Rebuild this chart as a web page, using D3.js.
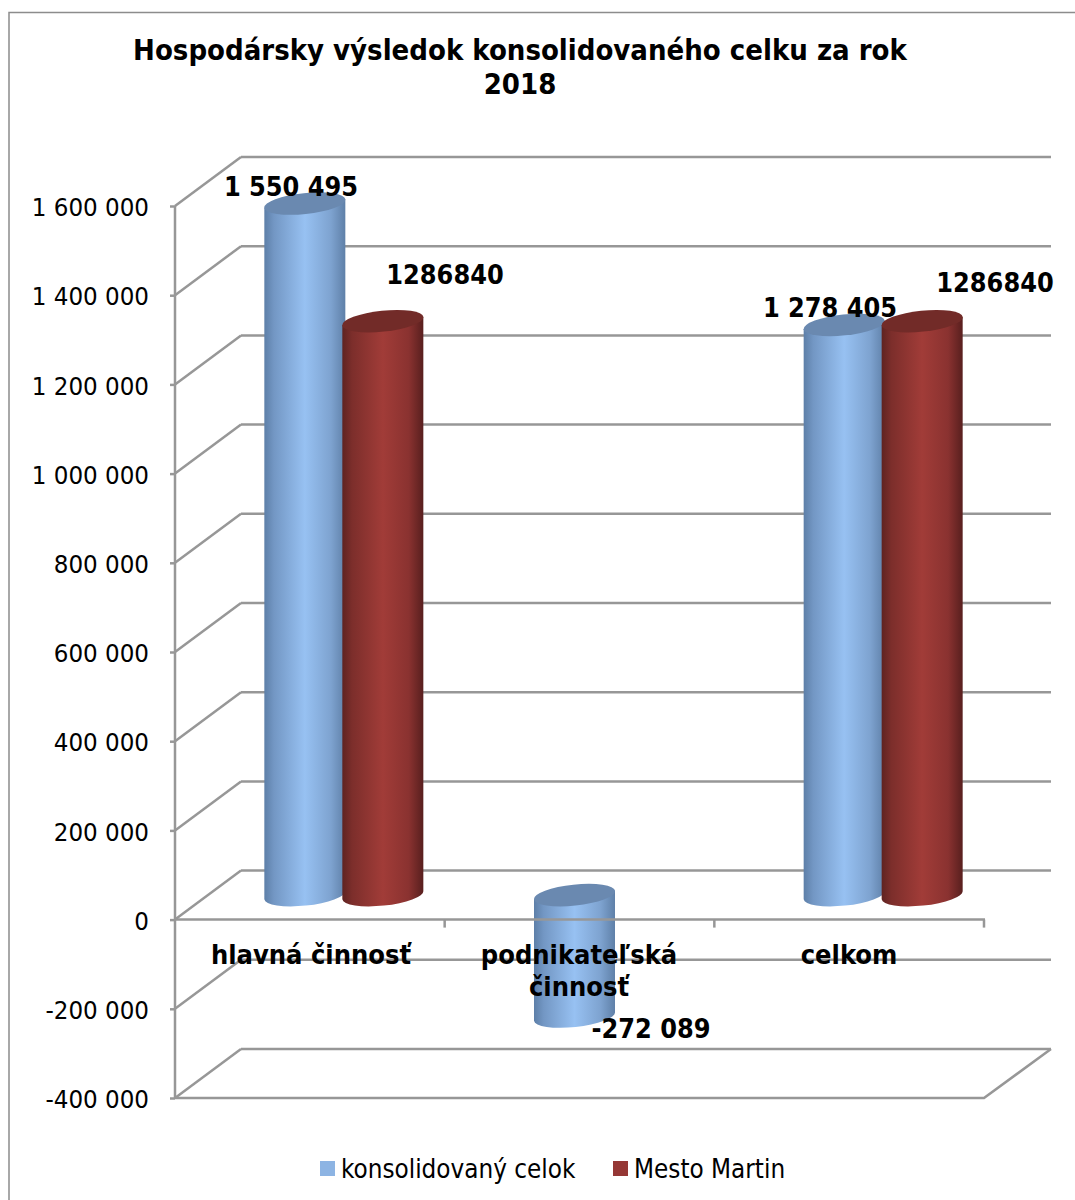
<!DOCTYPE html>
<html>
<head>
<meta charset="utf-8">
<title>Hospodársky výsledok</title>
<script src="https://d3js.org/d3.v7.min.js"></script>
<style>
  html, body {margin: 0; padding: 0; background: #fff;}
  svg {display: block;}
  text {font-family: "DejaVu Sans Condensed", "DejaVu Sans", sans-serif; fill: #000;}
</style>
</head>
<body>
<script>
var categories = ["hlavná činnosť", "podnikateľská činnosť", "celkom"];
var seriesNames = ["konsolidovaný celok", "Mesto Martin"];
var consolidated = [1550495, -272089, 1278405];
var mesto = [1286840, null, 1286840];
var consolidatedLabels = ["1 550 495", "-272 089", "1 278 405"];
var mestoLabels = ["1286840", "", "1286840"];
var yTicks = [-400000, -200000, 0, 200000, 400000, 600000, 800000, 1000000, 1200000, 1400000, 1600000];
var titleLines = ["Hospodársky výsledok konsolidovaného celku za rok", "2018"];

var width = 1075, height = 1200;
var depthX = 66, depthY = 49;
var barWidth = 81, capRy = 10.5, capTilt = -6;
var grid = "#979797";

var svg = d3.select("body").append("svg").attr("width", width).attr("height", height);

var y = d3.scaleLinear().domain([-400000, 1600000]).range([1098, 206]);
var x = d3.scaleBand().domain(categories).range([175, 984]);
var xSeries = d3.scaleBand().domain(seriesNames).range([-78, 78]);

// gradients across the cylinders
var defs = svg.append("defs");
function gradient(id, stops) {
    var g = defs.append("linearGradient").attr("id", id);
    stops.forEach(function(s) {
        g.append("stop").attr("offset", s[0]).attr("stop-color", s[1]);
    });
}
gradient("side0", [[0, "#5d7fa8"], [0.12, "#7397c4"], [0.5, "#97c1f2"], [0.82, "#7ea3d0"], [1, "#5f80a8"]]);
gradient("side1", [[0, "#5f2321"], [0.12, "#7c2e2b"], [0.5, "#a13c38"], [0.82, "#8a3230"], [1, "#581f1e"]]);
var capColor = ["#6a89b0", "#722b28"];

// outer frame
svg.append("path")
    .attr("d", "M9,1200V12.5H1075")
    .attr("fill", "none").attr("stroke", "#8c8c8c").attr("stroke-width", 1.5);

// back wall and side wall gridlines
var gridG = svg.append("g").attr("fill", "none").attr("stroke", grid).attr("stroke-width", 2.5);
gridG.selectAll(".back").data(yTicks).enter().append("line")
    .attr("class", "back")
    .attr("x1", 175 + depthX).attr("x2", 984 + depthX + 1)
    .attr("y1", function(d) {return y(d) - depthY;})
    .attr("y2", function(d) {return y(d) - depthY;});
gridG.selectAll(".side").data(yTicks).enter().append("line")
    .attr("class", "side")
    .attr("x1", 175).attr("x2", 175 + depthX)
    .attr("y1", function(d) {return y(d);})
    .attr("y2", function(d) {return y(d) - depthY;});
// floor at the bottom value
gridG.append("path")
    .attr("d", "M175," + y(-400000) + "H984L" + (984 + depthX + 1) + "," + (y(-400000) - depthY));

// value axis
var yAxis = d3.axisLeft(y).tickValues(yTicks).tickSize(5)
    .tickFormat(function(d) {return d3.format(",")(d).replace(/,/g, " ").replace("−", "-");});
var yG = svg.append("g").attr("transform", "translate(175,0)").call(yAxis);
yG.selectAll("line,path").attr("stroke", grid).attr("stroke-width", 2.5);
yG.select(".domain").attr("d", "M0," + y(1600000) + "V" + y(-400000));
yG.selectAll("text").attr("x", -26).attr("dy", "0.38em").style("font-size", "25.6px");

// cylinders
var bars = [];
categories.forEach(function(c, i) {
    bars.push({cat: c, s: 0, value: consolidated[i], label: consolidatedLabels[i]});
    if (mesto[i] !== null) bars.push({cat: c, s: 1, value: mesto[i], label: mestoLabels[i]});
});
function barCenter(d) {
    return x(d.cat) + x.bandwidth() / 2 + depthX / 2 + 1 + xSeries(seriesNames[d.s]) + xSeries.bandwidth() / 2;
}
var planeY = function(v) {return y(v) - depthY / 2;};

var bar = svg.selectAll(".bar").data(bars).enter().append("g")
    .attr("class", "bar")
    .attr("transform", function(d) {return "translate(" + barCenter(d) + ",0)";});
bar.append("path")
    .attr("fill", function(d) {return "url(#side" + d.s + ")";})
    .attr("d", function(d) {
        var a = barWidth / 2, tilt = a * Math.tan(capTilt * Math.PI / 180);
        var top = planeY(Math.max(d.value, 0)), bottom = planeY(Math.min(d.value, 0));
        return "M" + (-a) + "," + (top - tilt) + "L" + (-a) + "," + (bottom - tilt) +
            "A" + a + "," + capRy + " " + capTilt + " 0 0 " + a + "," + (bottom + tilt) +
            "L" + a + "," + (top + tilt) + "Z";
    });
bar.append("ellipse")
    .attr("rx", barWidth / 2 + 0.3).attr("ry", capRy)
    .attr("fill", function(d) {return capColor[d.s];})
    .attr("transform", function(d) {
        return "translate(0," + planeY(Math.max(d.value, 0)) + ") rotate(" + capTilt + ")";
    });

// category axis sits in front of the bars
var xG = svg.append("g").attr("fill", "none").attr("stroke", grid).attr("stroke-width", 2.5);
xG.append("line").attr("x1", 175).attr("x2", 985).attr("y1", y(0)).attr("y2", y(0));
xG.selectAll(".tick").data(categories).enter().append("line")
    .attr("class", "tick")
    .attr("x1", function(d) {return x(d) + x.bandwidth();})
    .attr("x2", function(d) {return x(d) + x.bandwidth();})
    .attr("y1", y(0)).attr("y2", y(0) + 8);

// category labels
var catSize = 27;
svg.append("text").attr("x", 311).attr("y", 964).attr("text-anchor", "middle")
    .attr("font-weight", "bold").style("font-size", catSize + "px").text(categories[0]);
svg.append("text").attr("x", 579).attr("y", 964).attr("text-anchor", "middle")
    .attr("font-weight", "bold").style("font-size", catSize + "px").text("podnikateľská");
svg.append("text").attr("x", 579).attr("y", 996).attr("text-anchor", "middle")
    .attr("font-weight", "bold").style("font-size", catSize + "px").text("činnosť");
svg.append("text").attr("x", 849).attr("y", 964).attr("text-anchor", "middle")
    .attr("font-weight", "bold").style("font-size", catSize + "px").text(categories[2]);

// data labels
var labelPos = [[291, 196], [445, 284], [651, 1038], [830, 317], [995, 292]];
svg.selectAll(".val").data(bars).enter().append("text")
    .attr("class", "val")
    .attr("x", function(d, i) {return labelPos[i][0];})
    .attr("y", function(d, i) {return labelPos[i][1];})
    .attr("text-anchor", "middle").attr("font-weight", "bold")
    .style("font-size", "26.8px")
    .text(function(d) {return d.label;});

// title
svg.selectAll(".title").data(titleLines).enter().append("text")
    .attr("class", "title")
    .attr("x", 520).attr("y", function(d, i) {return 60 + i * 34;})
    .attr("text-anchor", "middle").attr("font-weight", "bold")
    .style("font-size", "29px")
    .text(function(d) {return d;});

// legend
var legendX = [320, 613];
var legend = svg.selectAll(".legend").data(seriesNames).enter().append("g")
    .attr("class", "legend")
    .attr("transform", function(d, i) {return "translate(" + legendX[i] + ",1161)";});
legend.append("rect").attr("width", 15).attr("height", 15)
    .attr("fill", function(d, i) {return ["#8db4e3", "#953735"][i];});
legend.append("text").attr("x", 21).attr("y", 17)
    .style("font-size", "25.8px").text(function(d) {return d;});
</script>
</body>
</html>
